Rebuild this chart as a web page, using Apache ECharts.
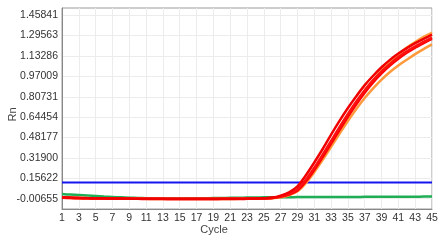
<!DOCTYPE html>
<html>
<head>
<meta charset="utf-8">
<script src="https://cdn.jsdelivr.net/npm/echarts@6/dist/echarts.min.js"></script>
<style>
html,body{margin:0;padding:0;background:#fff;}
#chart{width:446px;height:240px;}
</style>
</head>
<body>
<div id="chart"></div>
<script>
var cycles = [1,2,3,4,5,6,7,8,9,10,11,12,13,14,15,16,17,18,19,20,21,22,23,24,25,26,27,28,29,30,31,32,33,34,35,36,37,38,39,40,41,42,43,44,45];
var xTickLabels = ['1','3','5','7','9','11','13','15','17','19','21','23','25','27','29','31','33','35','37','39','41','43','45'];
var yTickLabels = ['-0.00655','0.15622','0.31900','0.48177','0.64454','0.80731','0.97009','1.13286','1.29563','1.45841'];

var red1 = [0.002,0.000,-0.002,-0.003,-0.004,-0.005,-0.006,-0.006,-0.007,-0.007,-0.008,-0.008,-0.008,-0.009,-0.009,-0.009,-0.009,-0.009,-0.009,-0.008,-0.008,-0.008,-0.007,-0.006,-0.004,-0.001,0.012,0.032,0.068,0.145,0.240,0.345,0.455,0.565,0.670,0.770,0.860,0.940,1.010,1.070,1.125,1.170,1.210,1.245,1.280];
var red2 = [0.004,0.002,0.000,-0.002,-0.003,-0.004,-0.005,-0.006,-0.006,-0.007,-0.007,-0.007,-0.008,-0.008,-0.008,-0.008,-0.008,-0.008,-0.008,-0.008,-0.007,-0.007,-0.006,-0.005,-0.003,0.002,0.018,0.044,0.092,0.180,0.282,0.390,0.505,0.615,0.718,0.812,0.900,0.975,1.043,1.102,1.152,1.196,1.236,1.270,1.303];
var red3 = [0.000,-0.002,-0.003,-0.004,-0.005,-0.006,-0.007,-0.007,-0.008,-0.008,-0.009,-0.009,-0.009,-0.010,-0.010,-0.010,-0.010,-0.010,-0.010,-0.009,-0.009,-0.009,-0.008,-0.007,-0.005,-0.002,0.009,0.026,0.058,0.130,0.222,0.325,0.433,0.542,0.648,0.748,0.840,0.922,0.994,1.056,1.110,1.158,1.200,1.236,1.270];
var orange1 = [0.001,-0.001,-0.003,-0.004,-0.005,-0.006,-0.006,-0.007,-0.007,-0.008,-0.008,-0.009,-0.009,-0.009,-0.009,-0.010,-0.010,-0.010,-0.009,-0.009,-0.009,-0.008,-0.008,-0.007,-0.006,-0.004,0.004,0.020,0.052,0.118,0.205,0.303,0.408,0.512,0.614,0.710,0.797,0.874,0.944,1.005,1.057,1.103,1.148,1.188,1.225];
var orange2 = [0.003,0.001,-0.001,-0.002,-0.003,-0.004,-0.005,-0.005,-0.006,-0.006,-0.007,-0.007,-0.007,-0.008,-0.008,-0.008,-0.008,-0.008,-0.008,-0.007,-0.007,-0.007,-0.006,-0.005,-0.004,-0.002,0.008,0.026,0.060,0.130,0.220,0.325,0.435,0.545,0.655,0.760,0.855,0.940,1.015,1.085,1.145,1.200,1.245,1.285,1.320];
var green = [0.030,0.026,0.022,0.018,0.014,0.010,0.007,0.004,0.001,-0.001,-0.003,-0.004,-0.005,-0.005,-0.005,-0.005,-0.004,-0.003,-0.002,-0.001,0.000,0.001,0.002,0.003,0.004,0.005,0.005,0.005,0.006,0.006,0.006,0.006,0.007,0.007,0.007,0.007,0.008,0.008,0.008,0.008,0.009,0.009,0.009,0.010,0.010];
var threshold = 0.122;

function pairs(vals){ return cycles.map(function(c,i){ return [c, vals[i]]; }); }
var xTicks = xTickLabels.map(Number);
var yTicks = yTickLabels.map(parseFloat);
var thresholdData = [[cycles[0], threshold],[cycles[cycles.length-1], threshold]];

var font = 'Liberation Sans';
var chart = echarts.init(document.getElementById('chart'), null, {renderer:'canvas'});
function line(name, vals, color, w){
  return {name:name, type:'line', data:pairs(vals), showSymbol:false, symbol:'none', smooth:0.3,
    lineStyle:{color:color, width:w}, itemStyle:{color:color}, animation:false, silent:true};
}
chart.setOption({
  animation:false,
  grid:{left:62, right:14, top:8, bottom:31, containLabel:false, outerBoundsMode:'none',
    show:true, borderColor:'#9a9a9a', borderWidth:1, backgroundColor:'transparent'},
  xAxis:{type:'value', min:1, max:45,
    name:'Cycle', nameLocation:'middle', nameGap:15, nameMoveOverlap:false,
    nameTextStyle:{fontFamily:font, fontSize:11, color:'#444', padding:[0,66,0,0]},
    axisLine:{show:true, onZero:false, lineStyle:{color:'#888', width:1}},
    axisTick:{show:false, customValues:xTicks},
    axisLabel:{customValues:xTicks, fontFamily:font, fontSize:10.5, color:'#333', margin:4,
      formatter:function(v){ return String(v); }},
    splitLine:{show:true, lineStyle:{color:'#ececec', width:1}}
  },
  yAxis:{type:'value', min:-0.089, max:1.516,
    name:'Rn', nameLocation:'middle', nameGap:44, nameMoveOverlap:false,
    nameTextStyle:{fontFamily:font, fontSize:11, color:'#444', padding:[0,12,0,0]},
    axisLine:{show:true, onZero:false, lineStyle:{color:'#888', width:1}},
    axisTick:{show:false, customValues:yTicks},
    axisLabel:{customValues:yTicks, fontFamily:font, fontSize:10.5, color:'#333', margin:4,
      formatter:function(v){ var i = yTicks.indexOf(v); return i>=0 ? yTickLabels[i] : v.toFixed(5); }},
    splitLine:{show:true, lineStyle:{color:'#ececec', width:1}}
  },
  series:[
    line('Green', green, '#1fae55', 2.5),
    {name:'Threshold', type:'line', data:thresholdData, showSymbol:false, symbol:'none',
      lineStyle:{color:'#1414f0', width:2}, animation:false, silent:true},
    line('Orange 1', orange1, '#ff9a3c', 2.5),
    line('Orange 2', orange2, '#ffa040', 2.5),
    line('Red 3', red3, '#ff0000', 2.5),
    line('Red 1', red1, '#ff1010', 2.5),
    line('Red 2', red2, '#f00000', 2.5)
  ]
});
</script>
</body>
</html>
